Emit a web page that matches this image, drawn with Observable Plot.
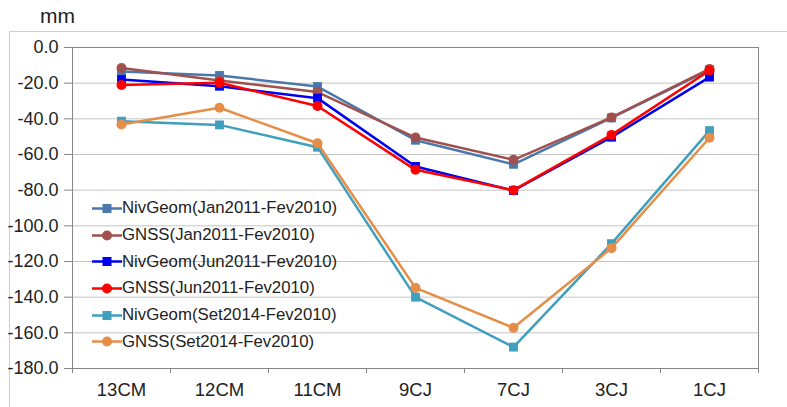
<!DOCTYPE html>
<html><head><meta charset="utf-8">
<script src="https://cdn.jsdelivr.net/npm/d3@7"></script>
<script src="https://cdn.jsdelivr.net/npm/@observablehq/plot@0.6"></script>
<style>
body{margin:0;background:#fff;font-family:"Liberation Sans",Arial,sans-serif;}
#wrap{position:relative;width:787px;height:407px;overflow:hidden;}
#frame{position:absolute;left:9px;top:31px;width:800px;height:400px;border:1px solid #cfcfcf;}
#chart{position:absolute;left:0;top:0;}
#unit{position:absolute;left:40px;top:4px;font-size:21px;color:#222;}
#legend{position:absolute;left:92px;top:195px;}
.row{display:flex;align-items:center;height:26.7px;font-size:16.8px;color:#222;white-space:nowrap;}
.row svg{display:block;}
</style></head><body>
<div id="wrap"><div id="frame"></div><div id="chart"></div><div id="unit">mm</div><div id="legend"></div></div>
<script>
const categories = ["13CM","12CM","11CM","9CJ","7CJ","3CJ","1CJ"];
const seriesNames = ["NivGeom(Jan2011-Fev2010)","GNSS(Jan2011-Fev2010)","NivGeom(Jun2011-Fev2010)","GNSS(Jun2011-Fev2010)","NivGeom(Set2014-Fev2010)","GNSS(Set2014-Fev2010)"];
const seriesColors = ["#4a78ad","#a0504d","#0000ee","#ff0000","#3f9fbd","#e58e48"];
const seriesSymbols = ["square","circle","square","circle","square","circle"];
const nivJan2011 = [-13.5,-15.7,-21.9,-52.0,-65.5,-39.5,-12.5];
const gnssJan2011 = [-11.5,-18.5,-25.0,-50.5,-63.0,-39.2,-12.0];
const nivJun2011 = [-18.0,-21.7,-28.4,-66.7,-80.2,-50.3,-16.6];
const gnssJun2011 = [-21.0,-19.8,-32.8,-68.6,-80.0,-49.0,-12.9];
const nivSet2014 = [-41.3,-43.4,-55.9,-140.0,-168.0,-110.0,-46.6];
const gnssSet2014 = [-43.2,-33.8,-53.7,-134.8,-157.2,-112.5,-50.6];
const yTicks = [0,-20,-40,-60,-80,-100,-120,-140,-160,-180];

const seriesValues = [nivJan2011,gnssJan2011,nivJun2011,gnssJun2011,nivSet2014,gnssSet2014];
const rows = [];
seriesValues.forEach((vals,s)=>vals.forEach((v,i)=>rows.push({s, i, cat: categories[i], v})));

const marks = [
  Plot.ruleY(yTicks, {stroke:"#c4c4c4", strokeWidth:1}),
  Plot.frame({stroke:"#868686"}),
  Plot.axisY(yTicks, {tickSize:8, tickFormat:()=>"", stroke:"#868686", label:null}),
  Plot.axisY(yTicks, {tickSize:0, tickPadding:14, tickFormat:d=>d.toFixed(1), fontSize:18, fill:"#222", label:null}),
  Plot.axisX(d3.range(-0.5,7,1), {tickSize:5, tickFormat:()=>"", stroke:"#868686", label:null}),
  Plot.axisX(d3.range(0,7), {tickSize:0, tickPadding:14, tickFormat:i=>categories[i], fontSize:18.5, fill:"#222", label:null})
];
seriesValues.forEach((vals,s)=>{
  const data = rows.filter(r=>r.s===s);
  marks.push(Plot.line(data, {x:"i", y:"v", stroke:seriesColors[s], strokeWidth:2.5}));
  marks.push(Plot.dot(data, {x:"i", y:"v", fill:seriesColors[s], stroke:"none", symbol:()=>seriesSymbols[s], r:5}));
});

const chart = Plot.plot({
  width:787, height:407,
  marginLeft:72, marginRight:29, marginTop:47, marginBottom:39,
  style:{fontFamily:"'Liberation Sans', Arial, sans-serif", background:"transparent", color:"#222"},
  x:{type:"linear", domain:[-0.5,6.5], axis:null},
  y:{domain:[-180,0], axis:null},
  symbol:{type:"identity"},
  marks
});
document.getElementById("chart").appendChild(chart);

const legend = document.getElementById("legend");
seriesNames.forEach((name,s)=>{
  const row = document.createElement("div");
  row.className = "row";
  const c = seriesColors[s];
  const mk = seriesSymbols[s]==="square"
    ? `<rect x="10.5" y="3" width="9" height="9" fill="${c}"/>`
    : `<circle cx="15" cy="7.5" r="5" fill="${c}"/>`;
  row.innerHTML = `<svg width="30" height="15"><line x1="0" x2="30" y1="7.5" y2="7.5" stroke="${c}" stroke-width="2.5"/>${mk}</svg><span>${name}</span>`;
  legend.appendChild(row);
});
</script>
</body></html>
